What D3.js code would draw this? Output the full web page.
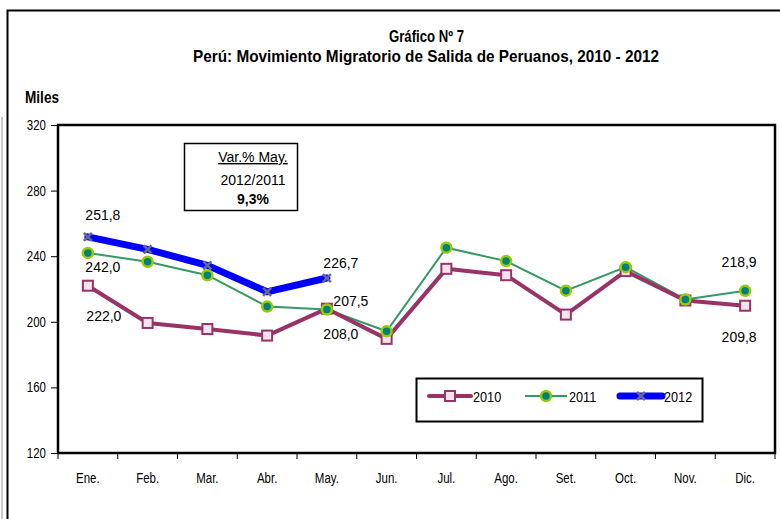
<!DOCTYPE html>
<html>
<head>
<meta charset="utf-8">
<script src="https://cdn.jsdelivr.net/npm/d3@7"></script>
<style>
  body { margin: 0; background: #fff; }
  svg { display: block; }
  text { font-family: "Liberation Sans", Arial, sans-serif; fill: #000; }
</style>
</head>
<body>
<div id="chart"></div>
<script>
// chart data
const months = ['Ene.', 'Feb.', 'Mar.', 'Abr.', 'May.', 'Jun.', 'Jul.', 'Ago.', 'Set.', 'Oct.', 'Nov.', 'Dic.'];
const values2010 = [222.0, 199.3, 195.6, 191.6, 208.0, 189.6, 232.3, 228.4, 204.4, 230.9, 213.0, 209.8];
const values2011 = [242.0, 236.6, 228.4, 209.3, 207.5, 194.2, 245.2, 237.0, 219.0, 233.3, 213.6, 218.9];
const values2012 = [251.8, 244.2, 234.4, 218.3, 226.7];
const yTicks = [120, 160, 200, 240, 280, 320];
const seriesNames = ['2010', '2011', '2012'];

// labels shown next to points: [series, month index, text, dx, dy]
const pointLabels = [
    ['2012', 0, '251,8', 15, -17],
    ['2011', 0, '242,0', 15, 19],
    ['2010', 0, '222,0', 16, 35],
    ['2012', 4, '226,7', 14, -10],
    ['2011', 4, '207,5', 24, -4],
    ['2010', 4, '208,0', 14, 30],
    ['2011', 11, '218,9', -6, -24],
    ['2010', 11, '209,8', -6, 36]
];

const width = 780;
const height = 519;
const margin = { top: 125, right: 5, bottom: 66, left: 58 };
const NARROW = 0.82; // fake "Arial Narrow" by squeezing Liberation Sans

const svg = d3.select('#chart').append('svg')
    .attr('width', width)
    .attr('height', height);

function narrowText(parent, x, y, str, size) {
    return parent.append('text')
        .attr('transform', `translate(${x},${y}) scale(${NARROW},1)`)
        .attr('font-size', size)
        .text(str);
}

// page artefact line + outer frame
svg.append('line')
    .attr('x1', 2).attr('x2', 2).attr('y1', 117).attr('y2', height)
    .attr('stroke', '#c8c8c8').attr('stroke-width', 2);
svg.append('path')
    .attr('d', `M7.5,${height} V10.5 H${width}`)
    .attr('fill', 'none')
    .attr('stroke', '#000')
    .attr('stroke-width', 2);

const x = d3.scaleBand()
    .domain(months)
    .range([margin.left, width - margin.right]);

const y = d3.scaleLinear()
    .domain([120, 320])
    .range([height - margin.bottom, margin.top]);

const cx = (i) => x(months[i]) + x.bandwidth() / 2;

// titles
svg.append('text')
    .attr('x', 389).attr('y', 42)
    .attr('font-size', 16).attr('font-weight', 'bold')
    .attr('textLength', 75).attr('lengthAdjust', 'spacingAndGlyphs')
    .text('Gráfico Nº 7');
svg.append('text')
    .attr('x', 193).attr('y', 62)
    .attr('font-size', 17).attr('font-weight', 'bold')
    .attr('textLength', 466).attr('lengthAdjust', 'spacingAndGlyphs')
    .text('Perú: Movimiento Migratorio de Salida de Peruanos, 2010 - 2012');
svg.append('text')
    .attr('x', 25).attr('y', 103)
    .attr('font-size', 16).attr('font-weight', 'bold')
    .attr('textLength', 34).attr('lengthAdjust', 'spacingAndGlyphs')
    .text('Miles');

// plot frame
svg.append('rect')
    .attr('x', margin.left)
    .attr('y', margin.top)
    .attr('width', width - margin.right - margin.left)
    .attr('height', height - margin.bottom - margin.top)
    .attr('fill', 'none')
    .attr('stroke', '#000')
    .attr('stroke-width', 2.5);

// y axis
const yAxis = svg.append('g')
    .attr('transform', `translate(${margin.left},0)`)
    .call(d3.axisLeft(y).tickValues(yTicks).tickSize(7));
yAxis.select('.domain').remove();
yAxis.selectAll('.tick line').attr('stroke', '#000');
yAxis.selectAll('.tick text')
    .attr('font-family', null)
    .attr('font-size', 14)
    .attr('fill', '#000')
    .attr('x', -12 / NARROW)
    .attr('transform', `scale(${NARROW},1)`);

// x axis, ticks sit between categories
const xAxis = svg.append('g')
    .attr('transform', `translate(0,${height - margin.bottom})`);
xAxis.selectAll('line')
    .data(d3.range(months.length + 1))
    .join('line')
    .attr('x1', (i) => margin.left + i * x.step())
    .attr('x2', (i) => margin.left + i * x.step())
    .attr('y1', 0).attr('y2', 6)
    .attr('stroke', '#000');
months.forEach((m) => {
    narrowText(xAxis, x(m) + x.bandwidth() / 2, 30, m, 14)
        .attr('text-anchor', 'middle');
});

const line = d3.line()
    .x((d, i) => cx(i))
    .y((d) => y(d));

// series
svg.append('path')
    .attr('d', line(values2011))
    .attr('fill', 'none')
    .attr('stroke', '#339966')
    .attr('stroke-width', 2);
svg.append('path')
    .attr('d', line(values2010))
    .attr('fill', 'none')
    .attr('stroke', '#993366')
    .attr('stroke-width', 4)
    .attr('stroke-linejoin', 'round');
svg.append('path')
    .attr('d', line(values2012))
    .attr('fill', 'none')
    .attr('stroke', '#0000ff')
    .attr('stroke-width', 7)
    .attr('stroke-linejoin', 'round')
    .attr('stroke-linecap', 'round');

// markers
function drawSquare(g, px, py) {
    g.append('rect')
        .attr('x', px - 5).attr('y', py - 5)
        .attr('width', 10).attr('height', 10)
        .attr('fill', '#f4e4ee')
        .attr('stroke', '#993366')
        .attr('stroke-width', 2);
}
function drawDot(g, px, py) {
    g.append('circle')
        .attr('cx', px).attr('cy', py).attr('r', 5)
        .attr('fill', '#008080')
        .attr('stroke', '#99cc00')
        .attr('stroke-width', 2.5);
}
function drawCross(g, px, py) {
    g.append('path')
        .attr('d', `M${px - 4},${py - 4}L${px + 4},${py + 4}M${px - 4},${py + 4}L${px + 4},${py - 4}`)
        .attr('stroke', '#666699')
        .attr('stroke-width', 2.5);
}

const marks = svg.append('g');
values2010.forEach((v, i) => drawSquare(marks, cx(i), y(v)));
values2011.forEach((v, i) => drawDot(marks, cx(i), y(v)));
values2012.forEach((v, i) => drawCross(marks, cx(i), y(v)));

// value labels
const seriesValues = { '2010': values2010, '2011': values2011, '2012': values2012 };
svg.append('g')
    .selectAll('text')
    .data(pointLabels)
    .join('text')
    .attr('font-size', 14)
    .attr('x', (d) => cx(d[1]) + d[3])
    .attr('y', (d) => y(seriesValues[d[0]][d[1]]) + d[4])
    .attr('text-anchor', 'middle')
    .text((d) => d[2]);

// variation box
const note = svg.append('g');
note.append('rect')
    .attr('x', 184.5).attr('y', 143.5)
    .attr('width', 113).attr('height', 67)
    .attr('fill', '#fff')
    .attr('stroke', '#000')
    .attr('stroke-width', 1.5);
note.append('text')
    .attr('x', 253).attr('y', 162)
    .attr('font-size', 14)
    .attr('text-anchor', 'middle')
    .attr('text-decoration', 'underline')
    .text('Var.% May.');
note.append('text')
    .attr('x', 253).attr('y', 185)
    .attr('font-size', 14)
    .attr('text-anchor', 'middle')
    .text('2012/2011');
note.append('text')
    .attr('x', 253).attr('y', 203.5)
    .attr('font-size', 14)
    .attr('text-anchor', 'middle')
    .attr('font-weight', 'bold')
    .text('9,3%');

// legend
const legend = svg.append('g');
legend.append('rect')
    .attr('x', 416.5).attr('y', 378.5)
    .attr('width', 286).attr('height', 43)
    .attr('fill', '#fff')
    .attr('stroke', '#000')
    .attr('stroke-width', 2);

const legendX = [429, 525, 620];
const legendStyle = {
    '2010': { color: '#993366', width: 4, cap: 'round' },
    '2011': { color: '#339966', width: 2, cap: 'butt' },
    '2012': { color: '#0000ff', width: 7, cap: 'round' }
};
seriesNames.forEach((name, i) => {
    const lx = legendX[i];
    const ly = 396;
    const st = legendStyle[name];
    legend.append('line')
        .attr('x1', lx).attr('x2', lx + 42)
        .attr('y1', ly).attr('y2', ly)
        .attr('stroke', st.color)
        .attr('stroke-width', st.width)
        .attr('stroke-linecap', st.cap);
    if (name === '2010') drawSquare(legend, lx + 21, ly);
    if (name === '2011') drawDot(legend, lx + 21, ly);
    if (name === '2012') drawCross(legend, lx + 21, ly);
    narrowText(legend, lx + 44, ly + 6, name, 15.5);
});
</script>
</body>
</html>
